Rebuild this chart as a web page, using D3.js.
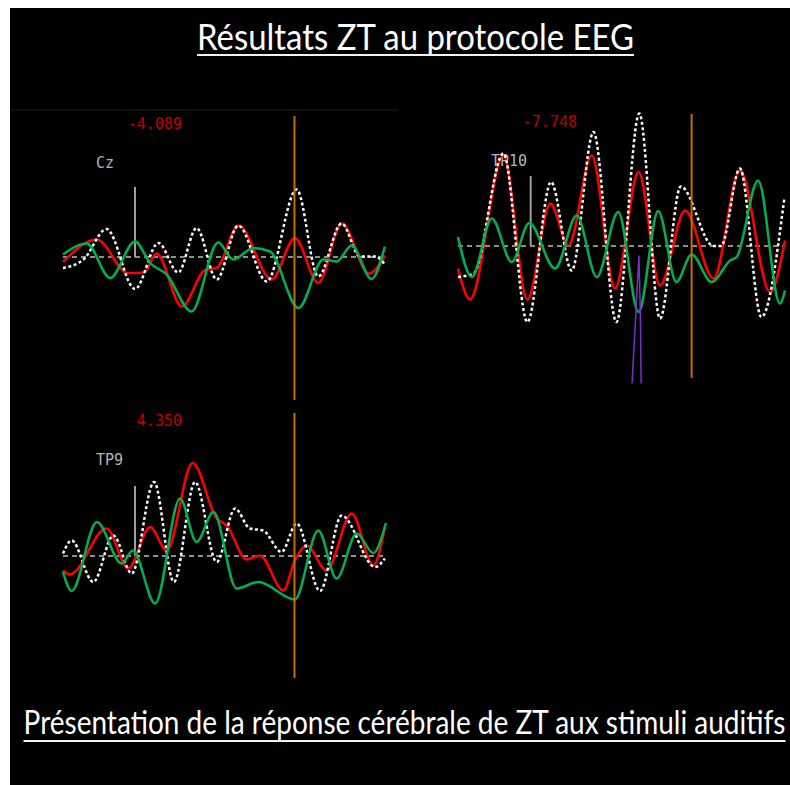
<!DOCTYPE html>
<html lang="fr">

<head>
    <meta charset="UTF-8">
    <title>Résultats ZT au protocole EEG</title>
    <script src="https://d3js.org/d3.v7.min.js"></script>
    <style>
        body { margin: 0; background: #fff; }
    </style>
</head>

<body>
    <div id="container"></div>

    <script>
        // time in ms (stimulus at 0), amplitude in µV, positive up
        var timeDomain = [-200, 700];
        var stimulusTime = 0;
        var cursorTime = 443;
        var markerHeight = 14;

        var channelNames = ["Cz", "TP10", "TP9"];
        var cursorValues = ["-4.089", "-7.748", "4.350"];
        var titleText = "Résultats ZT au protocole EEG";
        var captionText = "Présentation de la réponse cérébrale de ZT aux stimuli auditifs";

        // Cz
        var czRed = [[-200, -1.0], [-106, 3.5], [-20, -3.2], [25, -3.1], [60, 0.7], [130, -9.9], [195, -2.6], [227, -2.2], [287, 6.3], [380, -4.5], [444, 3.8], [509, -5.2], [574, 6.7], [650, -3.3], [694, 0.3]];
        var czGreen = [[-200, 0.5], [-134, 2.7], [-69, -4.2], [0, 3.1], [42, -1.2], [88, -3.5], [157, -10.9], [231, 2.9], [273, -0.5], [329, 1.8], [375, 1.1], [454, -10.2], [523, -0.5], [560, -0.9], [602, 2.3], [657, -4.4], [694, 2.1]];
        var czWhite = [[-200, -2.2], [-143, -0.5], [-79, 5.6], [0, -6.4], [65, 2.8], [120, -3.1], [171, 5.8], [227, -4.5], [287, 6.3], [366, -4.9], [449, 13.5], [509, -3.9], [574, 6.7], [625, 0.1], [667, 0.1], [694, -1.5]];

        // TP10
        var tp10Red = [[-200, -4.5], [-167, -10.7], [-75, 18.1], [-9, -10.7], [54, 8.5], [104, 0.1], [168, 18.1], [232, -8.5], [297, 14.8], [356, -7.9], [425, 7.1], [503, -6.5], [576, 15.1], [659, -9.2], [700, 1.1]];
        var tp10Green = [[-200, 1.8], [-162, -6.2], [-107, 5.5], [-52, -3.2], [-4, 4.6], [67, -4.5], [127, 6.1], [182, -6.2], [241, 6.8], [297, -13.2], [351, 7.0], [401, -7.2], [443, -1.7], [498, -7.2], [549, -2.9], [567, -2.2], [626, 13.1], [686, -11.5], [700, -8.9]];
        var tp10White = [[-200, -6.2], [-157, -5.5], [-75, 18.5], [-9, -15.2], [56, 12.8], [113, -4.9], [173, 22.8], [236, -15.2], [299, 26.5], [356, -14.5], [413, 11.9], [503, 0], [524, 0], [576, 15.5], [635, -14.2], [698, 9.5]];
        var tp10Purple = [[279, -27.5], [289, -14], [298, -1.9], [302, -14], [304, -27.5]];

        // TP9
        var tp9Red = [[-200, -2.9], [-181, -3.7], [-79, 5.5], [-19, -2.5], [42, 5.8], [88, 1.1], [160, 18.6], [227, 7.5], [255, 6.1], [310, -0.7], [347, 0.1], [412, -6.9], [444, -0.9], [477, 2.1], [532, -2.9], [602, 8.5], [662, -1.9], [694, 5.8]];
        var tp9Green = [[-200, -3.2], [-176, -7.0], [-106, 6.8], [-37, -1.5], [-6, 1.1], [56, -9.5], [125, 11.5], [171, 2.8], [218, 8.8], [282, -6.5], [343, -5.2], [444, -8.7], [509, 5.1], [560, -4.5], [616, 4.5], [662, 0.6], [697, 6.6]];
        var tp9White = [[-200, 0.5], [-176, 3.1], [-116, -5.2], [-60, 4.1], [-9, -3.5], [53, 14.8], [108, -5.2], [167, 14.8], [227, -1.2], [278, 9.5], [319, 5.5], [356, 5.1], [407, 0.8], [449, 6.5], [514, -7.0], [574, 8.1], [667, -2.2], [694, -0.5]];

        var W = 790, H = 785;

        var svg = d3.select("#container")
            .append("svg")
            .attr("width", W)
            .attr("height", H);

        svg.append("rect")
            .attr("x", 10).attr("y", 8)
            .attr("width", W - 10).attr("height", H - 8)
            .attr("fill", "#000");

        // faint separator under the title
        svg.append("line")
            .attr("x1", 10).attr("x2", 398)
            .attr("y1", 110).attr("y2", 110)
            .attr("stroke", "#1e1e1e").attr("stroke-width", 1);

        // title + caption, underlined; squeezed horizontally to a narrow look
        function heading(txt, cx, y, size, len, uy) {
            var t = svg.append("text")
                .attr("x", 0).attr("y", 0)
                .attr("text-anchor", "middle")
                .style("font-family", "Lato, 'Open Sans', sans-serif")
                .style("font-size", size + "px")
                .attr("fill", "#fff")
                .text(txt);
            var natural = t.node().getComputedTextLength();
            t.attr("transform", "translate(" + cx + "," + y + ") scale(" + (len / natural) + ",1)");
            svg.append("line")
                .attr("x1", cx - len / 2).attr("x2", cx + len / 2)
                .attr("y1", uy).attr("y2", uy)
                .attr("stroke", "#f2f2f2").attr("stroke-width", 2);
        }
        heading(titleText, 415.5, 50, 36, 437, 55);
        heading(captionText, 404.5, 734, 33, 762, 741);

        var panels = [
            { name: channelNames[0], value: cursorValues[0], x0: 63, x1: 387, top: 116, base: 257, bottom: 400, red: czRed, green: czGreen, white: czWhite },
            { name: channelNames[1], value: cursorValues[1], x0: 458, x1: 785, top: 114, base: 246, bottom: 378, red: tp10Red, green: tp10Green, white: tp10White, purple: tp10Purple },
            { name: channelNames[2], value: cursorValues[2], x0: 63, x1: 387, top: 413, base: 556, bottom: 678, red: tp9Red, green: tp9Green, white: tp9White }
        ];

        var mono = "'DejaVu Sans Mono', monospace";

        panels.forEach(function (p) {
            var x = d3.scaleLinear().domain(timeDomain).range([p.x0, p.x1]);
            var y = d3.scaleLinear().domain([0, 1]).range([p.base, p.base - 5]);
            var g = svg.append("g");

            var line = d3.line()
                .x(function (d) { return x(d[0]); })
                .y(function (d) { return y(d[1]); })
                .curve(d3.curveMonotoneX);

            // zero line
            g.append("line")
                .attr("x1", x(timeDomain[0])).attr("x2", x(timeDomain[1]))
                .attr("y1", y(0)).attr("y2", y(0))
                .attr("stroke", "#bdbdbd").attr("stroke-width", 1.5)
                .attr("stroke-dasharray", "5,4");

            // stimulus marker
            g.append("line")
                .attr("x1", x(stimulusTime)).attr("x2", x(stimulusTime))
                .attr("y1", y(0)).attr("y2", y(markerHeight))
                .attr("stroke", "#a0a0a0").attr("stroke-width", 2);

            g.append("text")
                .attr("x", p.x0 + 33).attr("y", p.top + 52)
                .style("font-family", mono).style("font-size", "15px")
                .attr("fill", "#b4b4b4")
                .text(p.name);

            g.append("text")
                .attr("x", p.x0 + 119).attr("y", p.top + 13)
                .attr("text-anchor", "end")
                .style("font-family", mono).style("font-size", "15px")
                .attr("fill", "#c00000")
                .text(p.value);

            g.append("path").datum(p.red)
                .attr("d", line).attr("fill", "none")
                .attr("stroke", "#ff0000").attr("stroke-width", 2.5);

            g.append("path").datum(p.white)
                .attr("d", line).attr("fill", "none")
                .attr("stroke", "#ffffff").attr("stroke-width", 2.5)
                .attr("stroke-dasharray", "3,2.5");

            g.append("path").datum(p.green)
                .attr("d", line).attr("fill", "none")
                .attr("stroke", "#00b050").attr("stroke-width", 2.5);

            if (p.purple) {
                g.append("path").datum(p.purple)
                    .attr("d", d3.line().x(function (d) { return x(d[0]); }).y(function (d) { return y(d[1]); }))
                    .attr("fill", "none")
                    .attr("stroke", "#7a30c8").attr("stroke-width", 1.5);
            }

            // cursor
            g.append("line")
                .attr("x1", x(cursorTime)).attr("x2", x(cursorTime))
                .attr("y1", p.top).attr("y2", p.bottom)
                .attr("stroke", "#c07000").attr("stroke-width", 2);
        });
    </script>
</body>

</html>
